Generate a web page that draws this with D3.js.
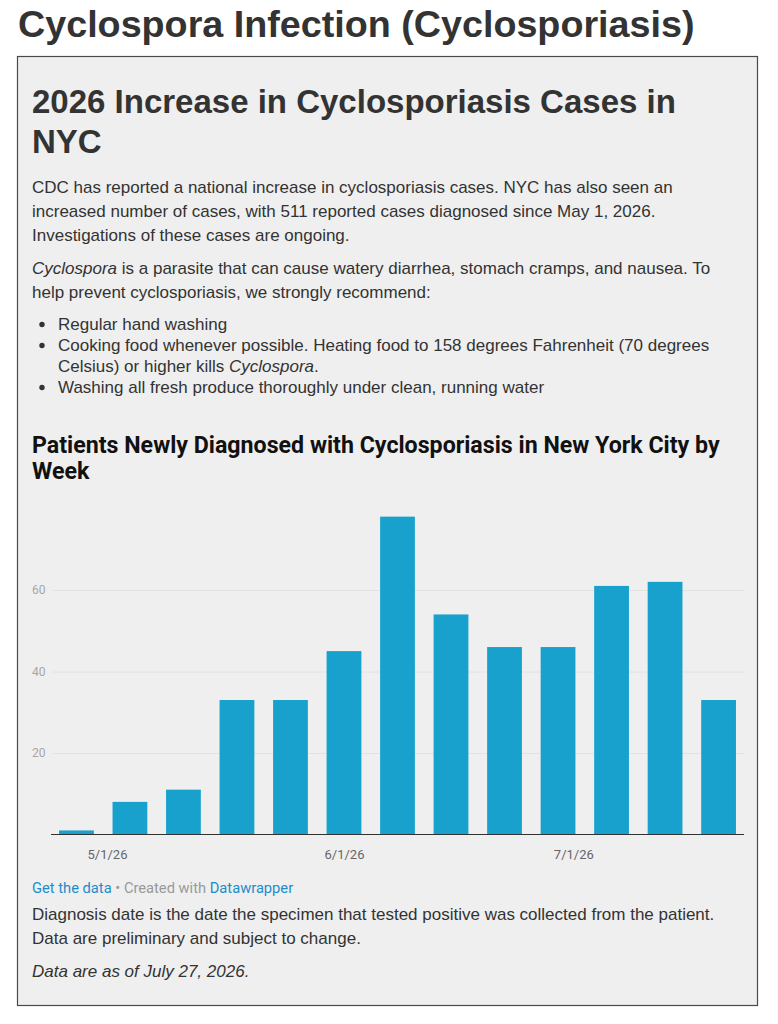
<!DOCTYPE html>
<html>
<head>
<meta charset="utf-8">
<script src="https://cdn.jsdelivr.net/npm/d3@7"></script>
<style>
body { margin: 0; background: #fff; }
.page { font-family: "Liberation Sans", Arial, Helvetica, sans-serif; fill: #333; }
.dw { font-family: Roboto, "Liberation Sans", sans-serif; }
</style>
</head>
<body>
<div id="page"></div>
<script>
// weekly counts, week start dates
var weeks = ["2026-04-27", "2026-05-04", "2026-05-11", "2026-05-18", "2026-05-25", "2026-06-01", "2026-06-08",
	"2026-06-15", "2026-06-22", "2026-06-29", "2026-07-06", "2026-07-13", "2026-07-20"];
var cases = [1, 8, 11, 33, 33, 45, 78, 54, 46, 46, 61, 62, 33];
var yTicks = [20, 40, 60];
var xTickDates = ["2026-05-01", "2026-06-01", "2026-07-01"];

var pageTitle = "Cyclospora Infection (Cyclosporiasis)";
var headLines = ["2026 Increase in Cyclosporiasis Cases in", "NYC"];
var chartTitle = ["Patients Newly Diagnosed with Cyclosporiasis in New York City by", "Week"];

var width = 778;
var height = 1024;
var bodySize = 17;
var parse = d3.timeParse("%Y-%m-%d");
var fmt = d3.timeFormat("%-m/%-d/%y");

var svg = d3.select("#page")
	.append("svg")
	.attr("class", "page")
	.attr("width", width)
	.attr("height", height);

svg.append("text")
	.attr("x", 18)
	.attr("y", 37)
	.attr("font-size", 37.7)
	.attr("font-weight", "bold")
	.text(pageTitle);

// grey box
svg.append("rect")
	.attr("x", 17.5)
	.attr("y", 56.5)
	.attr("width", 740)
	.attr("height", 949)
	.attr("fill", "#efefef")
	.attr("stroke", "#4a4a4a")
	.attr("stroke-width", 1.2);

svg.selectAll(".head")
	.data(headLines)
	.enter()
	.append("text")
	.attr("class", "head")
	.attr("x", 32)
	.attr("y", function(d, i) { return 113 + i * 40; })
	.attr("font-size", 33)
	.attr("font-weight", "bold")
	.text(function(d) { return d; });

// paragraphs, line by line as wrapped in the picture
function addLine(y, parts, size) {
	var t = svg.append("text")
		.attr("x", 32)
		.attr("y", y)
		.attr("font-size", size || bodySize);
	parts.forEach(function(p) {
		var s = t.append("tspan").text(p[0]);
		if (p[1]) s.attr("font-style", "italic");
	});
	return t;
}

addLine(193, [["CDC has reported a national increase in cyclosporiasis cases. NYC has also seen an"]]);
addLine(217, [["increased number of cases, with 511 reported cases diagnosed since May 1, 2026."]]);
addLine(241, [["Investigations of these cases are ongoing."]]);
addLine(274, [["Cyclospora", true], [" is a parasite that can cause watery diarrhea, stomach cramps, and nausea. To"]]);
addLine(298, [["help prevent cyclosporiasis, we strongly recommend:"]]);

var bullets = [
	{y: 330, parts: [["Regular hand washing"]], dot: true},
	{y: 351, parts: [["Cooking food whenever possible. Heating food to 158 degrees Fahrenheit (70 degrees"]], dot: true},
	{y: 372, parts: [["Celsius) or higher kills "], ["Cyclospora", true], ["."]], dot: false},
	{y: 393, parts: [["Washing all fresh produce thoroughly under clean, running water"]], dot: true}
];
bullets.forEach(function(b) {
	addLine(b.y, b.parts).attr("x", 58);
	if (b.dot) {
		svg.append("circle")
			.attr("cx", 42)
			.attr("cy", b.y - 5.5)
			.attr("r", 2.7)
			.attr("fill", "#333");
	}
});

// chart title
svg.selectAll(".ctitle")
	.data(chartTitle)
	.enter()
	.append("text")
	.attr("class", "ctitle dw")
	.attr("x", 32)
	.attr("y", function(d, i) { return 452.5 + i * 26; })
	.attr("font-size", 23.2)
	.attr("font-weight", "bold")
	.attr("fill", "#111")
	.text(function(d) { return d; });

// scales
var x = d3.scaleBand()
	.domain(weeks)
	.range([51, 744])
	.paddingInner(0.35)
	.paddingOuter(0.15);

var y = d3.scaleLinear()
	.domain([0, 80])
	.range([834.5, 508.5]);

var xTime = d3.scaleTime()
	.domain([parse(weeks[0]), parse(weeks[weeks.length - 1])])
	.range([x(weeks[0]) + x.bandwidth() / 2, x(weeks[weeks.length - 1]) + x.bandwidth() / 2]);

// grid
var yAxis = d3.axisLeft(y)
	.tickValues(yTicks)
	.tickSize(-(744 - 53))
	.tickPadding(0);

var gy = svg.append("g")
	.attr("class", "dw")
	.attr("transform", "translate(53,0)")
	.call(yAxis);
gy.select(".domain").remove();
gy.selectAll(".tick line")
	.attr("stroke", "#e2e2e2");
gy.selectAll(".tick text")
	.attr("x", -21)
	.attr("text-anchor", "start")
	.attr("font-size", 12)
	.attr("fill", "#a6a6a6");

// bars
svg.selectAll(".bar")
	.data(cases)
	.enter()
	.append("rect")
	.attr("class", "bar")
	.attr("x", function(d, i) { return x(weeks[i]); })
	.attr("y", function(d) { return y(d); })
	.attr("width", x.bandwidth())
	.attr("height", function(d) { return y(0) - y(d); })
	.attr("fill", "#18a1cd");

// baseline + date labels
var xAxis = d3.axisBottom(xTime)
	.tickValues(xTickDates.map(parse))
	.tickFormat(fmt)
	.tickSize(0)
	.tickPadding(15);

var gx = svg.append("g")
	.attr("class", "dw")
	.attr("transform", "translate(0," + y(0) + ")")
	.call(xAxis);
gx.select(".domain").remove();
gx.selectAll(".tick text")
	.attr("font-size", 13)
	.attr("fill", "#666");

svg.append("line")
	.attr("x1", 51)
	.attr("x2", 744)
	.attr("y1", y(0))
	.attr("y2", y(0))
	.attr("stroke", "#333")
	.attr("stroke-width", 1.2);

// footer
var foot = svg.append("text")
	.attr("class", "dw")
	.attr("x", 32)
	.attr("y", 893)
	.attr("font-size", 14.7);
foot.append("tspan").attr("fill", "#1d8ccb").text("Get the data");
foot.append("tspan").attr("fill", "#999").text(" • Created with ");
foot.append("tspan").attr("fill", "#1d8ccb").text("Datawrapper");

addLine(920, [["Diagnosis date is the date the specimen that tested positive was collected from the patient."]]);
addLine(943.5, [["Data are preliminary and subject to change."]]);
addLine(976.5, [["Data are as of July 27, 2026.", true]]);
</script>
</body>
</html>
